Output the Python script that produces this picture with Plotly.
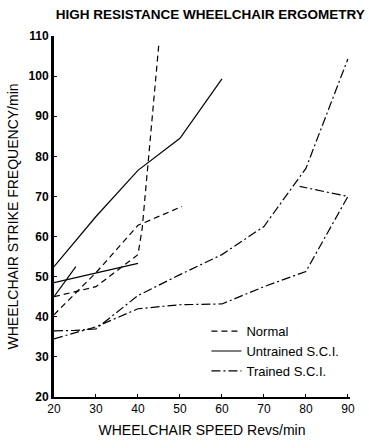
import plotly.graph_objects as go

# Normal (dashed)
normal_a_x = [20, 30, 40, 41, 45]
normal_a_y = [45, 47.5, 55.5, 62, 108.3]
normal_b_x = [20, 30, 40, 50.5]
normal_b_y = [40.5, 51, 62.8, 67.5]

# Untrained S.C.I. (solid)
untr_a_x = [20, 30, 40, 50, 60]
untr_a_y = [52.5, 65, 76.5, 84.5, 99.3]
untr_b_x = [20, 25.2]
untr_b_y = [45, 52.5]
untr_c_x = [20, 40]
untr_c_y = [48.5, 53.3]

# Trained S.C.I. (dash-dot)
tr_a_x = [20, 25, 30, 40, 50, 60, 70, 80, 90]
tr_a_y = [36.5, 36.6, 37, 45.3, 50.5, 55.5, 62.5, 77, 104.3]
tr_b_x = [20, 30, 40, 50, 60, 70, 80, 90, 78.5]
tr_b_y = [34.5, 37.5, 42, 43, 43.2, 47.5, 51.3, 70, 72.5]

x_ticks = [20, 30, 40, 50, 60, 70, 80, 90]
y_ticks = [20, 30, 40, 50, 60, 70, 80, 90, 100, 110]

FONT = "Liberation Sans, Arial, sans-serif"
lw = 1.2
DASH = "6px,4px"
DASHDOT = "9px,3px,2px,3px"

fig = go.Figure()

def add(x, y, dash, name, show):
    fig.add_trace(go.Scatter(x=x, y=y, mode="lines", name=name, showlegend=show,
                             legendgroup=name,
                             line=dict(color="black", width=lw, dash=dash)))

add(normal_a_x, normal_a_y, DASH, "Normal", True)
add(normal_b_x, normal_b_y, DASH, "Normal", False)
add(untr_a_x, untr_a_y, "solid", "Untrained S.C.I.", True)
add(untr_b_x, untr_b_y, "solid", "Untrained S.C.I.", False)
add(untr_c_x, untr_c_y, "solid", "Untrained S.C.I.", False)
add(tr_a_x, tr_a_y, DASHDOT, "Trained S.C.I.", True)
add(tr_b_x, tr_b_y, DASHDOT, "Trained S.C.I.", False)

fig.update_layout(
    width=369, height=448,
    margin=dict(l=51, r=19, t=36, b=41),
    paper_bgcolor="white", plot_bgcolor="white",
    font=dict(family=FONT, color="black", size=12),
    title=dict(text="<b>HIGH RESISTANCE WHEELCHAIR ERGOMETRY</b>",
               x=0.57, xanchor="center", y=0.968, yanchor="middle",
               font=dict(size=13.5, family=FONT)),
    showlegend=True,
    legend=dict(x=0.515, y=0.224, xanchor="left", yanchor="top",
                bgcolor="rgba(0,0,0,0)", font=dict(size=13, family=FONT),
                tracegroupgap=0, itemwidth=30),
)
fig.update_xaxes(range=[20, 90.5], tickvals=x_ticks, ticktext=[str(v) for v in x_ticks],
                 showgrid=False, zeroline=False, showline=True, linecolor="black",
                 linewidth=1.5, ticks="inside", ticklen=3, tickcolor="black",
                 tickfont=dict(size=12, family=FONT),
                 title=dict(text="WHEELCHAIR SPEED Revs/min",
                            font=dict(size=14, family=FONT), standoff=10))
fig.update_yaxes(range=[20, 110], tickvals=y_ticks, ticktext=["<b>%d</b>" % v for v in y_ticks],
                 showgrid=False, zeroline=False, showline=True, linecolor="black",
                 linewidth=3, ticks="inside", ticklen=3, tickcolor="black",
                 tickfont=dict(size=12, family=FONT),
                 title=dict(text="WHEELCHAIR STRIKE FREQUENCY/min",
                            font=dict(size=14, family=FONT), standoff=7))

fig.write_html("out.html")
